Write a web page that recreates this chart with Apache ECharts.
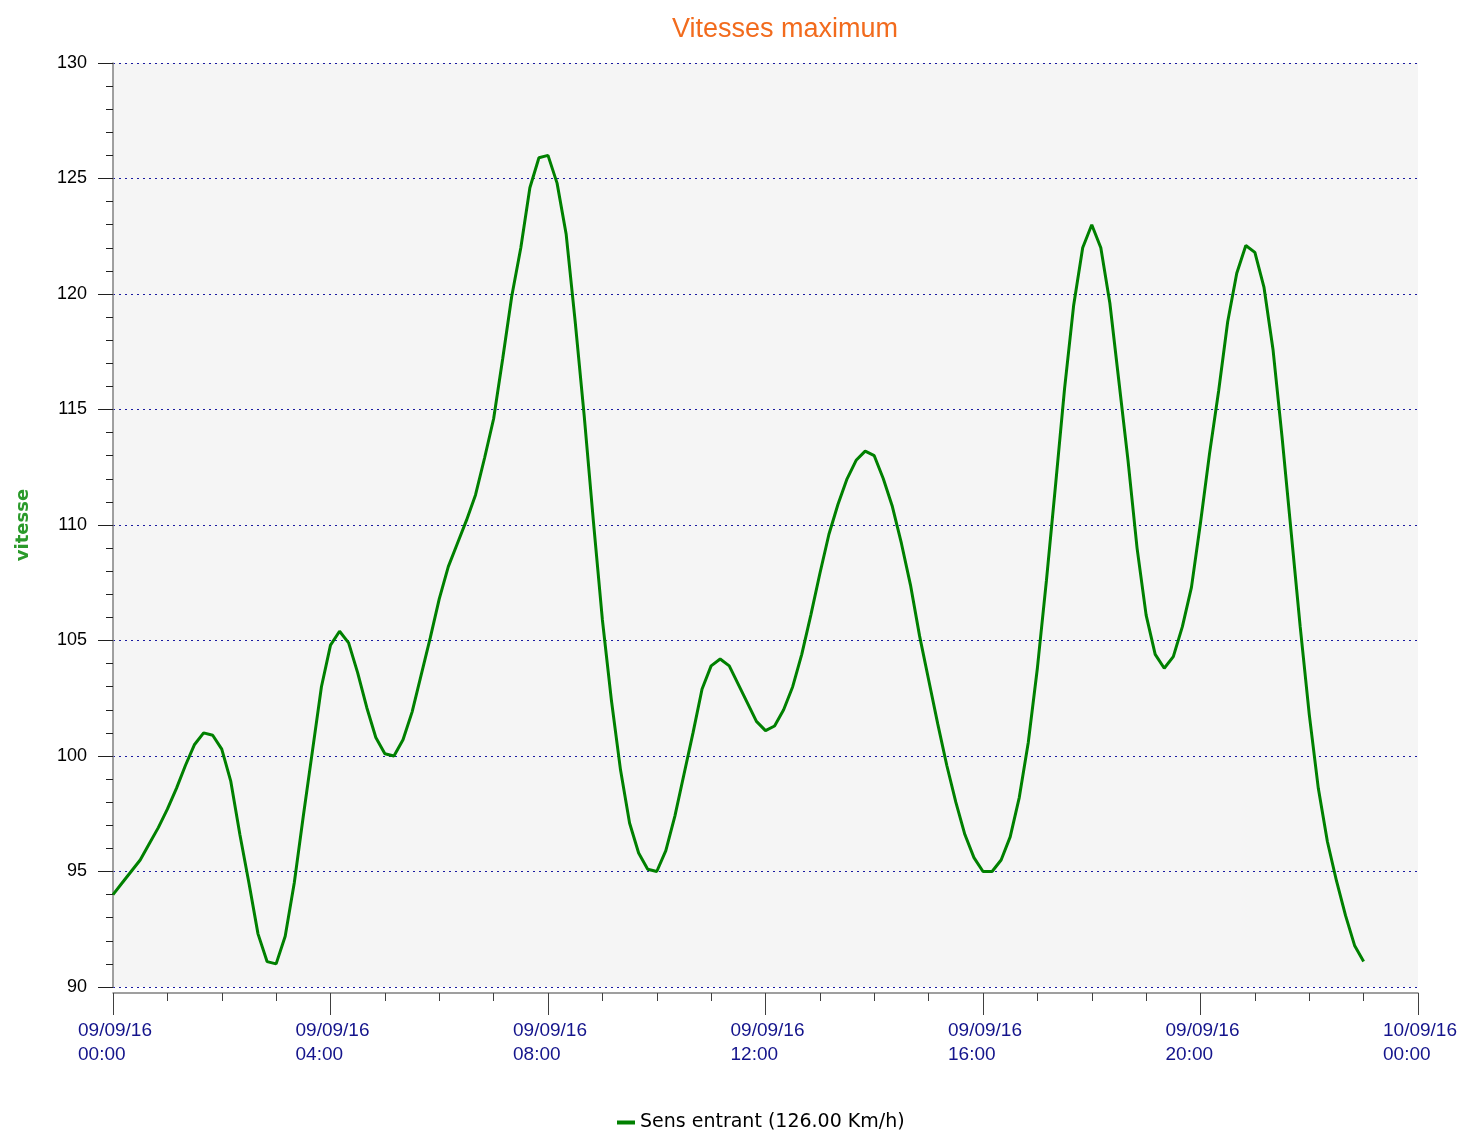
<!DOCTYPE html>
<html><head><meta charset="utf-8">
<script src="https://cdn.jsdelivr.net/npm/echarts@6/dist/echarts.min.js"></script>
<style>html,body{margin:0;padding:0;background:#fff}#c{width:1459px;height:1133px}</style>
</head><body><div id="c"></div>
<script>
// sampling: every 10 minutes from 09/09/16 00:00 to 23:00
const stepMinutes = 10;
const speeds = [
 94.0,94.5,95.0,95.5,96.2,96.9,97.7,98.6,99.6,100.5,
 101.0,100.9,100.3,98.9,96.6,94.5,92.3,91.1,91.0,92.2,
 94.5,97.4,100.2,103.0,104.8,105.4,104.9,103.6,102.1,100.8,
 100.1,100.0,100.7,101.9,103.5,105.1,106.8,108.2,109.2,110.2,
 111.3,112.9,114.6,117.2,119.9,122.0,124.6,125.9,126.0,124.8,
 122.6,118.8,114.7,110.2,105.9,102.4,99.4,97.1,95.8,95.1,
 95.0,95.9,97.4,99.2,101.0,102.9,103.9,104.2,103.9,103.1,
 102.3,101.5,101.1,101.3,102.0,103.0,104.4,106.1,107.9,109.6,
 110.9,112.0,112.8,113.2,113.0,112.0,110.8,109.2,107.4,105.2,
 103.3,101.4,99.6,98.0,96.6,95.6,95.0,95.0,95.5,96.5,
 98.2,100.6,103.8,107.6,111.7,115.9,119.5,122.0,123.0,122.0,
 119.6,116.2,112.8,109.0,106.1,104.4,103.8,104.3,105.6,107.3,
 110.1,113.1,115.8,118.8,120.9,122.1,121.8,120.3,117.6,113.8,
 109.7,105.6,101.8,98.6,96.3,94.6,93.1,91.8,91.1
];
const tickLabels = ['09/09/16\n00:00','09/09/16\n04:00','09/09/16\n08:00','09/09/16\n12:00','09/09/16\n16:00','09/09/16\n20:00','10/09/16\n00:00'];
const seriesName = 'Sens entrant (126.00 Km/h)';
const titleText = 'Vitesses maximum';
const yName = 'vitesse';

const data = speeds.map((v, i) => [i * stepMinutes, v]);
const chart = echarts.init(document.getElementById('c'), null, {renderer: 'canvas'});
chart.setOption({
  animation: false,
  backgroundColor: '#ffffff',
  title: {
    text: titleText, left: 780, top: 11, textAlign: 'center',
    textStyle: {color: '#f26b1d', fontFamily: 'Liberation Sans, Arial', fontSize: 27, fontWeight: 'normal'}
  },
  legend: {
    data: [seriesName], left: 612, top: 1108,
    icon: 'rect', itemWidth: 18, itemHeight: 4,
    textStyle: {color: '#000', fontFamily: 'DejaVu Sans', fontSize: 19}
  },
  grid: {left: 113, right: 41, top: 63, bottom: 146, show: true, backgroundColor: '#f5f5f5', borderWidth: 0,
         containLabel: false, outerBoundsMode: 'none'},
  xAxis: {
    type: 'value', min: 0, max: 1440, interval: 240, offset: 6,
    axisLine: {show: true, lineStyle: {color: '#808080', width: 1.5}},
    axisTick: {show: true, length: 22, lineStyle: {color: '#404040', width: 1}},
    minorTick: {show: true, splitNumber: 4, length: 8, lineStyle: {color: '#404040', width: 1}},
    splitLine: {show: false},
    axisLabel: {
      margin: 26,
      formatter: v => {
        const s = tickLabels[Math.round(v / 240)].split('\n');
        return '{d|' + s[0] + '}\n{d|' + s[1] + '}';
      },
      rich: {d: {width: 70, align: 'left', color: '#14148c', fontFamily: 'Liberation Sans, Arial', fontSize: 19, lineHeight: 24}}
    }
  },
  yAxis: {
    type: 'value', min: 90, max: 130, interval: 5, offset: 6,
    name: yName, nameLocation: 'middle', nameGap: 75, nameRotate: 90,
    nameTextStyle: {color: '#2a9a2a', fontFamily: 'DejaVu Sans', fontSize: 18, fontWeight: 'bold'},
    axisLine: {show: true, lineStyle: {color: '#808080', width: 1.5}},
    axisTick: {show: true, length: 15, lineStyle: {color: '#202020', width: 1}},
    minorTick: {show: true, splitNumber: 5, length: 7, lineStyle: {color: '#202020', width: 1}},
    splitLine: {show: true, lineStyle: {color: '#1a1aa0', width: 1, type: [2, 4]}},
    axisLabel: {margin: 20, color: '#000', fontFamily: 'Liberation Sans, Arial', fontSize: 18}
  },
  series: [{
    name: seriesName, type: 'line', data: data, showSymbol: false, symbol: 'none',
    lineStyle: {color: '#008000', width: 3}, itemStyle: {color: '#008000'}
  }]
});
</script></body></html>
